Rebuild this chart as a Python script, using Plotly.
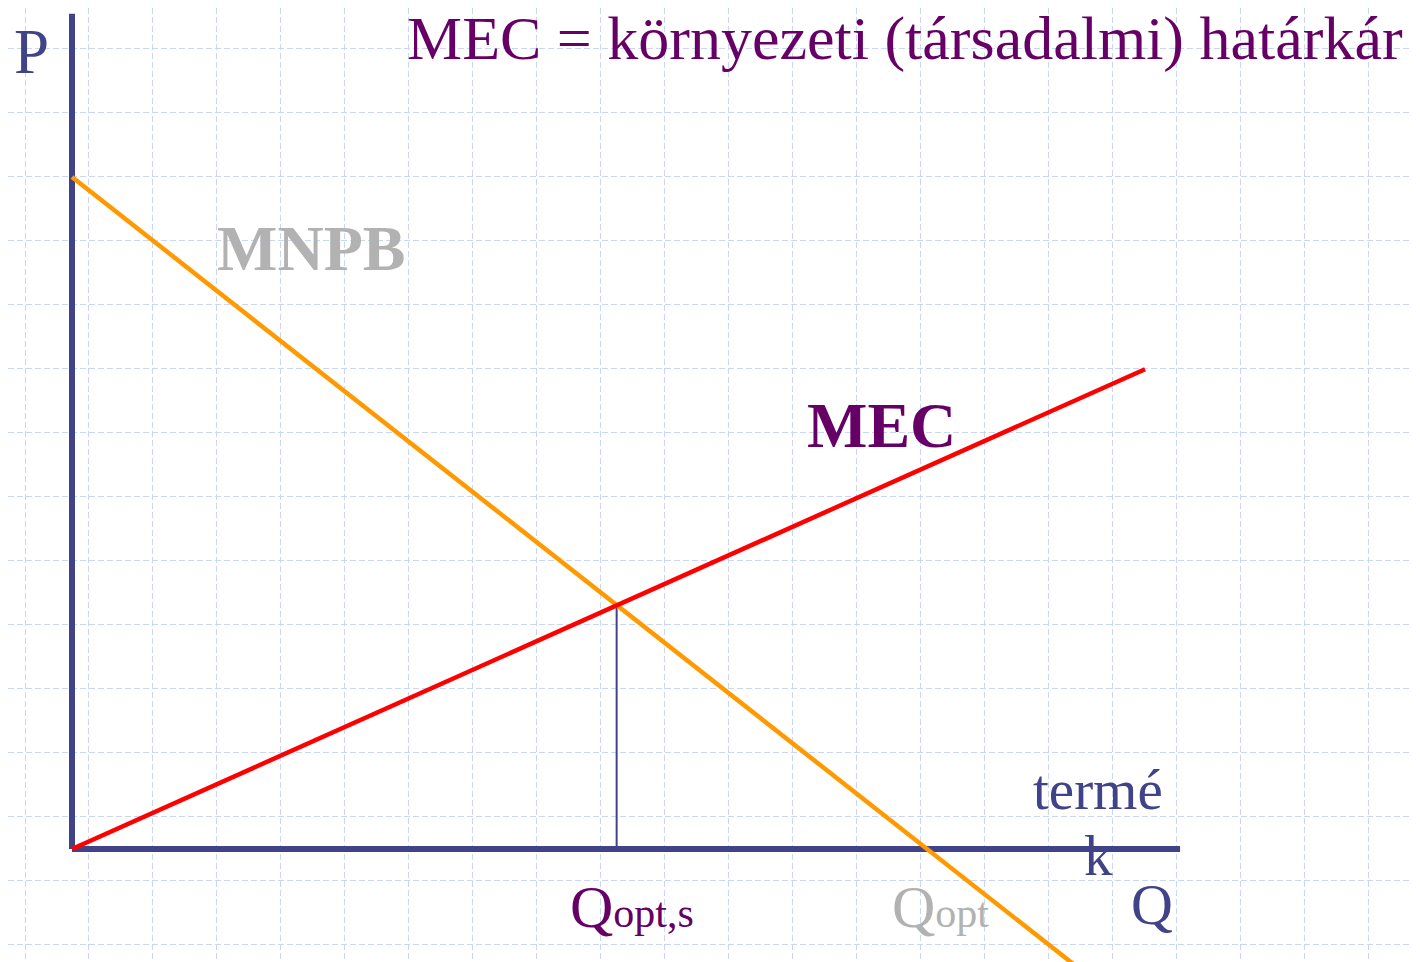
import plotly.graph_objects as go

# quantity / price coordinates of the curves (Q on x, P on y)
mnpb_q = [0, 11.8]
mnpb_p = [10, -1.8]
mec_q = [0, 12.55]
mec_p = [0, 7.14]
q_opt_s = 6.37
p_opt_s = 3.62
axis_q_end = 12.96
axis_p_end = 12.43

AXIS_COL = "#414389"
PURPLE = "#660066"
GRAY = "#b2b2b2"
FONT = "Liberation Serif, Times New Roman, serif"

fig = go.Figure()

# axes drawn as plain lines
fig.add_trace(go.Scatter(x=[0, 0], y=[0, axis_p_end], mode="lines",
                         line=dict(color=AXIS_COL, width=6), hoverinfo="skip"))
fig.add_trace(go.Scatter(x=[0, axis_q_end], y=[0, 0], mode="lines",
                         line=dict(color=AXIS_COL, width=6), hoverinfo="skip"))

# drop line from the intersection
fig.add_trace(go.Scatter(x=[q_opt_s, q_opt_s], y=[0, p_opt_s], mode="lines",
                         line=dict(color=AXIS_COL, width=2), hoverinfo="skip"))

fig.add_trace(go.Scatter(x=mnpb_q, y=mnpb_p, mode="lines",
                         line=dict(color="#ff9900", width=4.5), name="MNPB"))
fig.add_trace(go.Scatter(x=mec_q, y=mec_p, mode="lines",
                         line=dict(color="#ff0000", width=4.5), name="MEC"))


def label(x, y, text, color, size=63, xanchor="center", yanchor="middle"):
    fig.add_annotation(x=x, y=y, text=text, showarrow=False,
                       xanchor=xanchor, yanchor=yanchor,
                       font=dict(family=FONT, size=size, color=color))


def sub(txt):
    return '<span style="font-size:42px">' + txt + "</span>"


label(-0.47, 11.86, "P", AXIS_COL)
label(15.59, 12.06, "MEC = környezeti (társadalmi) határkár", PURPLE, size=62, xanchor="right")
label(2.80, 8.93, "<b>MNPB</b>", GRAY, size=64)
label(9.47, 6.30, "<b>MEC</b>", PURPLE, size=64)
label(12.0, 0.88, "termé", AXIS_COL, size=57)
label(12.0, -0.09, "k", AXIS_COL, size=57)
label(12.63, -0.83, "Q", AXIS_COL, size=58)
label(5.80, -0.86, "Q" + sub("opt,s"), PURPLE, size=60, xanchor="left")
label(9.57, -0.86, "Q" + sub("opt"), GRAY, size=60, xanchor="left")

grid = dict(showgrid=True, gridcolor="#c9d6f7", gridwidth=1, griddash="6px,3px",
            zeroline=False, showticklabels=False, ticks="", showline=False)

# the page body adds 8px on the left and top, so the figure is 8px smaller
fig.update_layout(
    width=1412, height=954,
    margin=dict(l=0, r=0, t=0, b=0),
    paper_bgcolor="white", plot_bgcolor="white",
    showlegend=False,
    xaxis=dict(range=[-0.7485, 15.766], tick0=-0.5497, dtick=0.7485, **grid),
    yaxis=dict(range=[-1.682, 12.515], tick0=11.905, dtick=0.952, **grid),
)

fig.write_html("out.html")
